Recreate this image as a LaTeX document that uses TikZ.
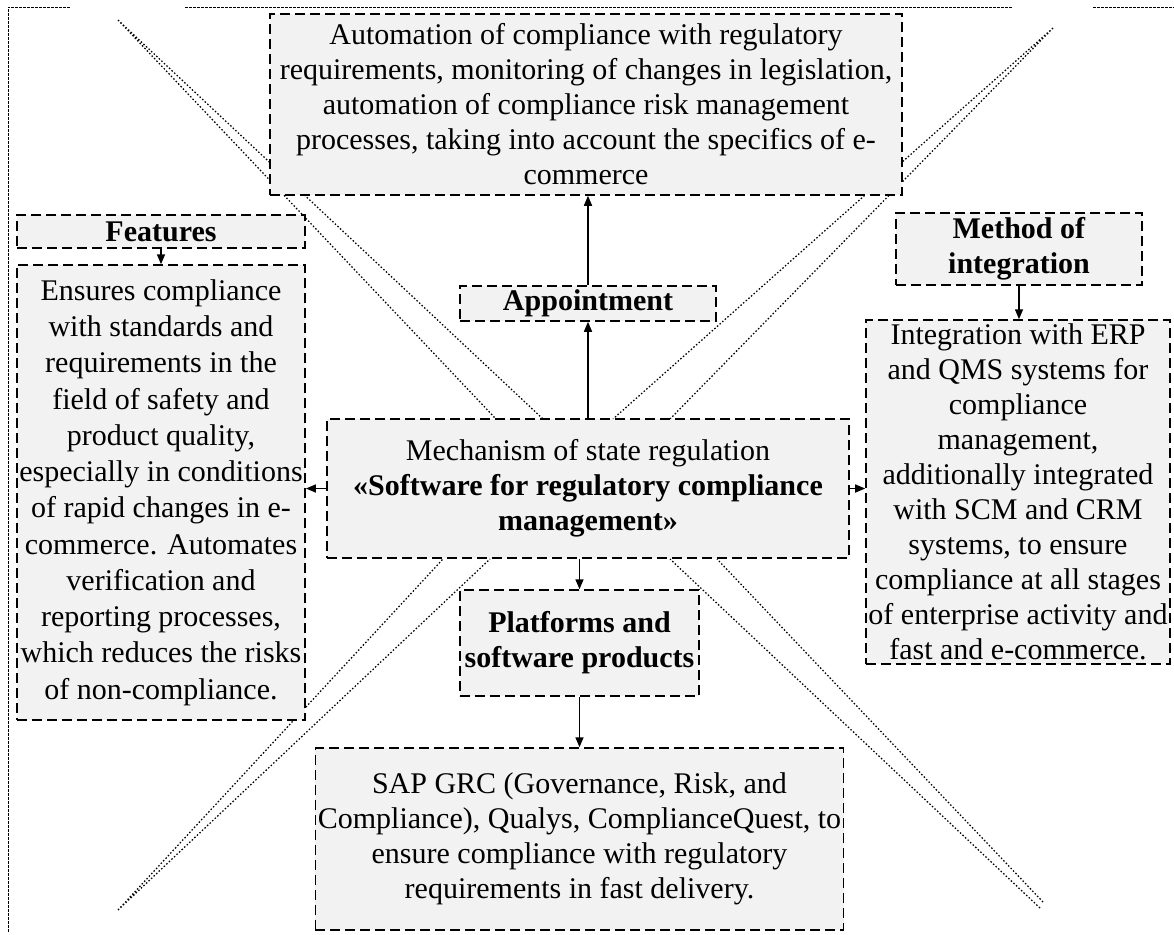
\documentclass[tikz,border=0pt]{standalone}
\usepackage{fontspec}
\setmainfont{Liberation Serif}
\usetikzlibrary{arrows.meta,positioning}
\definecolor{boxFill}{HTML}{F2F2F2}
\tikzset{
	box/.style={draw, dash pattern=on 4pt off 2pt, line width=0.6pt, fill=boxFill,
		inner sep=1pt, align=center},
	spike/.style={line width=0.5pt, dash pattern=on 0.6pt off 0.8pt},
	frameline/.style={line width=0.35pt, dash pattern=on 1.2pt off 0.4pt}
}

\begin{document}
\begin{tikzpicture}[x=0.4pt, y=-0.4pt, >={Triangle[length=4pt,width=3.2pt]},
		font=\fontsize{12}{14}\selectfont]
	\useasboundingbox (0,0) rectangle (1174,934);
	% frame
	\draw[frameline] (8,932) -- (8,7) -- (71,7);
	\draw[frameline] (185,7) -- (1013,7);
	\draw[frameline] (1093,7) -- (1174,7);
	% the X behind the boxes
	\coordinate (tl) at (118,20);
	\coordinate (tr) at (1053,28);
	\coordinate (bl) at (118,910);
	\draw[spike] (tl) -- (496,419) (tl) -- (543,419);
	\draw[spike] (tr) -- (613,419) (tr) -- (670,419);
	\draw[spike] (bl) -- (443,559) (bl) -- (490,559);
	\draw[spike] (1040,908) -- (670,559) (1043,902) -- (717,559);
	
	\node[box, minimum width=252.8pt, minimum height=72.4pt] (goal) at (586,104.5) {Automation of compliance with regulatory\\ requirements, monitoring of changes in legislation,\\ automation of compliance risk management\\ processes, taking into account the specifics of e-\\ commerce};
	\node[box, minimum width=102.4pt, minimum height=14pt] (appoint) at (588,303.5) {\textbf{Appointment}};
	\node[box, minimum width=208.8pt, minimum height=55.6pt] (mech) at (588,488.5) {Mechanism of state regulation\\ \textbf{«Software for regulatory compliance}\\ \textbf{management»}};
	\node[box, minimum width=95.6pt, minimum height=42.4pt] (platf) at (579.5,643) {\textbf{Platforms and}\\ \textbf{software products}};
	\node[box, minimum width=210.8pt, minimum height=72.8pt] (sap) at (579.5,839) {SAP GRC (Governance, Risk, and\\ Compliance), Qualys, ComplianceQuest, to\\ ensure compliance with regulatory\\ requirements in fast delivery.};
	\node[box, minimum width=115.2pt, minimum height=13.2pt] (feathead) at (161,231.5) {\textbf{Features}};
	\node[box, minimum width=115.2pt, minimum height=182pt, font=\fontsize{12}{14.5}\selectfont] (feat) at (161,492.5) {Ensures compliance\\ with standards and\\ requirements in the\\ field of safety and\\ product quality,\\ especially in conditions\\ of rapid changes in e-\\ commerce. Automates\\ verification and\\ reporting processes,\\ which reduces the risks\\ of non-compliance.};
	\node[box, minimum width=98.4pt, minimum height=28.8pt] (methhead) at (1019,249) {\textbf{Method of}\\ \textbf{integration}};
	\node[box, minimum width=120pt, minimum height=137.6pt] (integ) at (1018,492) {Integration with ERP\\ and QMS systems for\\ compliance\\ management,\\ additionally integrated\\ with SCM and CRM\\ systems, to ensure\\ compliance at all stages\\ of enterprise activity and\\ fast and e-commerce.};
	
	\draw[->, line width=0.6pt] (mech.north) -- (appoint.south);
	\draw[->, line width=0.6pt] (appoint.north) -- (appoint.north |- goal.south);
	\draw[->, line width=0.6pt] (platf.north |- mech.south) -- (platf.north);
	\draw[->, line width=0.6pt] (platf.south) -- (sap.north);
	\draw[->, line width=0.6pt] (feathead.south) -- (feat.north);
	\draw[->, line width=0.6pt] (methhead.south) -- (methhead.south |- integ.north);
	\draw[->, line width=0.6pt] (mech.west) -- (mech.west -| feat.east);
	\draw[->, line width=0.6pt] (mech.east) -- (mech.east -| integ.west);
\end{tikzpicture}
\end{document}
